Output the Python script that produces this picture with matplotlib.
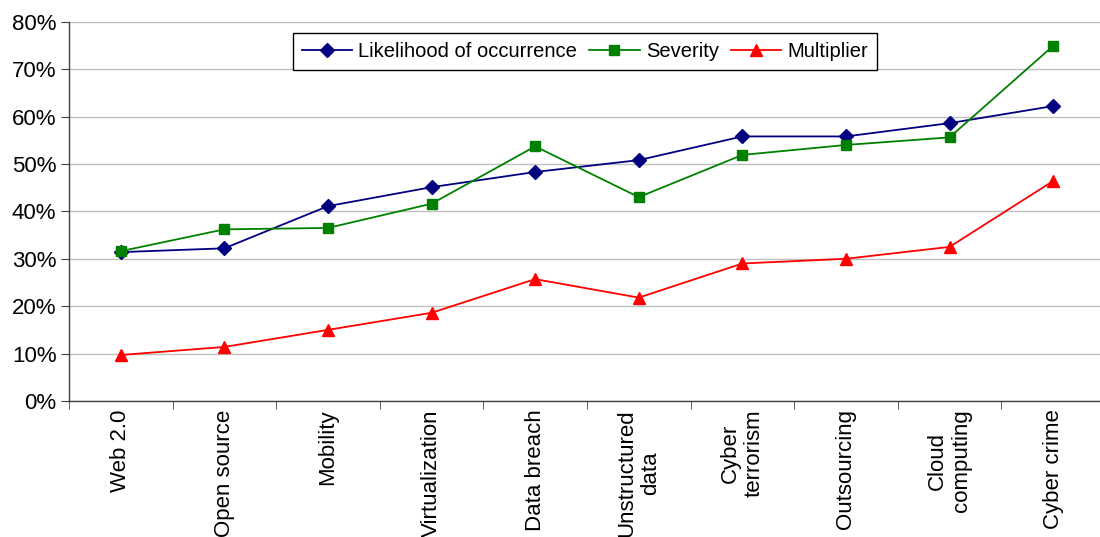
import numpy as np
import matplotlib
matplotlib.use("Agg")
import matplotlib.pyplot as plt
from matplotlib.ticker import PercentFormatter

plt.rcParams["font.family"] = ["Liberation Sans", "DejaVu Sans"]

categories = ["Web 2.0", "Open source", "Mobility", "Virtualization", "Data breach",
              "Unstructured\ndata", "Cyber\nterrorism", "Outsourcing", "Cloud\ncomputing",
              "Cyber crime"]
likelihood = [31.4, 32.2, 41.1, 45.1, 48.3, 50.8, 55.8, 55.8, 58.6, 62.2]
severity = [31.6, 36.2, 36.5, 41.6, 53.7, 43.0, 51.9, 54.0, 55.6, 74.9]
multiplier = [9.7, 11.4, 15.0, 18.6, 25.7, 21.8, 29.0, 30.0, 32.5, 46.4]

fig = plt.figure(figsize=(11, 5.37), dpi=100, facecolor="white")
ax = fig.add_axes([0.0627, 0.2533, 0.9418, 0.7063])

x = np.arange(len(categories))
ax.plot(x, likelihood, color="#000080", marker="D", markersize=7, linewidth=1.3,
        label="Likelihood of occurrence")
ax.plot(x, severity, color="#008000", marker="s", markersize=7, linewidth=1.3,
        label="Severity")
ax.plot(x, multiplier, color="#ff0000", marker="^", markersize=8, linewidth=1.3,
        label="Multiplier")

ax.set_xlim(-0.5, len(categories) - 0.5)
ax.set_ylim(0, 80)
ax.set_yticks(np.arange(0, 81, 10))
ax.yaxis.set_major_formatter(PercentFormatter(decimals=0))
ax.grid(axis="y", color="#c0c0c0", linewidth=1)
ax.set_axisbelow(True)

ax.set_xticks(x)
ax.set_xticklabels(categories, rotation=90, ha="center", va="top", multialignment="center")
ax.set_xticks(np.arange(-0.5, len(categories), 1), minor=True)
ax.tick_params(axis="x", which="major", length=0, pad=6, labelsize=16)
ax.tick_params(axis="x", which="minor", length=6, color="#404040", direction="out")
ax.tick_params(axis="y", length=6, color="#404040", labelsize=16, pad=3)

for side in ["top", "right"]:
    ax.spines[side].set_visible(False)
for side in ["left", "bottom"]:
    ax.spines[side].set_color("#404040")
    ax.spines[side].set_linewidth(1)

leg = ax.legend(loc="upper center", bbox_to_anchor=(0.498, 0.97), ncol=3, fontsize=14.5,
                frameon=True, fancybox=False, edgecolor="black", handlelength=2.5,
                handletextpad=0.3, columnspacing=0.6, borderpad=0.45, borderaxespad=0,
                framealpha=1)
leg.get_frame().set_linewidth(1)

fig.savefig("out.png", dpi=100)
